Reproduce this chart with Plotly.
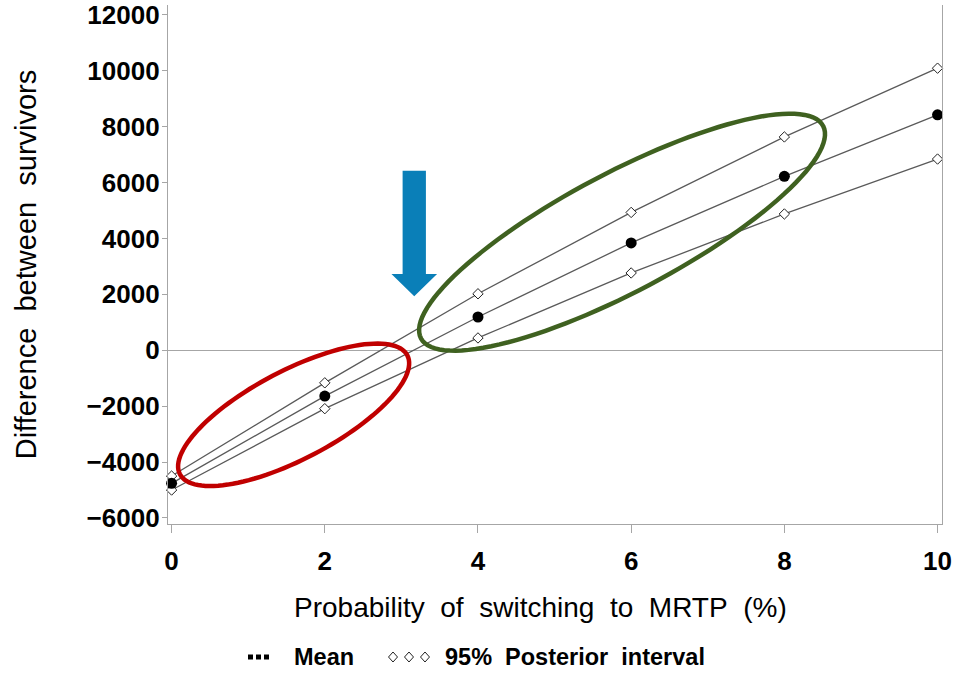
import numpy as np
import plotly.graph_objects as go

# ---- data ----
x_vals = [0, 2, 4, 6, 8, 10]
mean_vals = [-4760, -1640, 1190, 3840, 6220, 8420]
upper_vals = [-4500, -1165, 2020, 4930, 7630, 10090]
lower_vals = [-5000, -2090, 440, 2765, 4875, 6840]

x_ticks = [0, 2, 4, 6, 8, 10]
y_ticks = [-6000, -4000, -2000, 0, 2000, 4000, 6000, 8000, 10000, 12000]

# ---- layout geometry (body margin removed by post_script) ----
OFF = 0
W, H = 961, 673
ML, MR, MT, MB = 168, 19, 5, 149
XR = [-0.047, 10.058]
YR = [-6215, 12350]
PW, PH = W - ML - MR, H - MT - MB
SX = PW / (XR[1] - XR[0])   # px per x unit
SY = PH / (YR[1] - YR[0])   # px per y unit

FONT = "Liberation Sans, Arial, sans-serif"
LINE_COL = "#5a5a5a"
AXIS_COL = "#a6a6a6"
NB = "\u00a0"

fig = go.Figure()

for vals, name in [(upper_vals, "Upper 95%"), (lower_vals, "Lower 95%")]:
    fig.add_trace(go.Scatter(
        x=x_vals, y=vals, mode="lines+markers", name=name, showlegend=False,
        line=dict(color=LINE_COL, width=1.3),
        marker=dict(symbol="diamond", size=8, color="white",
                    line=dict(color="#222222", width=1)),
        cliponaxis=False,
    ))
fig.add_trace(go.Scatter(
    x=x_vals, y=mean_vals, mode="lines+markers", name="Mean", showlegend=False,
    line=dict(color=LINE_COL, width=1.3),
    marker=dict(symbol="circle", size=11, color="black"),
    cliponaxis=False,
))


def ellipse_path(cx, cy, a_px, b_px, theta_deg, n=120):
    th = np.radians(theta_deg)
    t = np.linspace(0, 2 * np.pi, n, endpoint=False)
    dx = a_px * np.cos(t) * np.cos(th) + b_px * np.sin(t) * np.sin(th)
    dy = -a_px * np.cos(t) * np.sin(th) + b_px * np.sin(t) * np.cos(th)
    xs = cx + dx / SX
    ys = cy - dy / SY
    pts = [f"{x:.4f},{y:.2f}" for x, y in zip(xs, ys)]
    return "M " + " L ".join(pts) + " Z"


# red ellipse
fig.add_shape(type="path", xref="x", yref="y",
              path=ellipse_path(1.593, -2309, 128.3, 44.3, 27.6),
              line=dict(color="#c00000", width=4.5))
# green ellipse
fig.add_shape(type="path", xref="x", yref="y",
              path=ellipse_path(5.881, 4224, 227.4, 59.4, 27.85),
              line=dict(color="#3f6120", width=4.5))

# blue arrow
ax_c, shaft_hw, head_hw = 3.168, 11.65 / SX, 22.8 / SX
y_top, y_head, y_tip = 6422, 2730, 1930
arrow = (f"M {ax_c - shaft_hw},{y_top} L {ax_c + shaft_hw},{y_top} "
         f"L {ax_c + shaft_hw},{y_head} L {ax_c + head_hw},{y_head} "
         f"L {ax_c},{y_tip} L {ax_c - head_hw},{y_head} "
         f"L {ax_c - shaft_hw},{y_head} Z")
fig.add_shape(type="path", xref="x", yref="y", path=arrow,
              fillcolor="#0a7fb8", line=dict(width=0))


# ---- helpers: page pixel -> paper coords ----
def px2paper_x(page_x):
    return (page_x - OFF - ML) / PW


def px2paper_y(page_y):
    return (MT + PH - (page_y - OFF)) / PH


# x-axis title (slightly left of plot centre, as in the reference)
x_title = NB.join(["Probability", "", "of", "", "switching", "", "to", "", "MRTP", "", "(%)"])
fig.add_annotation(xref="paper", yref="paper", x=px2paper_x(540), y=px2paper_y(607),
                   text=x_title, showarrow=False, xanchor="center", yanchor="middle",
                   font=dict(family=FONT, size=28, color="black"))

# ---- legend (built from annotations and paper shapes) ----
leg_cy = 657
for cx in [250.5, 258.5, 266.5]:
    fig.add_shape(type="rect", xref="paper", yref="paper",
                  x0=px2paper_x(cx - 2.5), x1=px2paper_x(cx + 2.5),
                  y0=px2paper_y(leg_cy + 2.5), y1=px2paper_y(leg_cy - 2.5),
                  fillcolor="black", line=dict(width=0))
for cx in [393, 409, 425]:
    hw, hh = 4.5, 5
    p = (f"M {px2paper_x(cx - hw)},{px2paper_y(leg_cy)} "
         f"L {px2paper_x(cx)},{px2paper_y(leg_cy - hh)} "
         f"L {px2paper_x(cx + hw)},{px2paper_y(leg_cy)} "
         f"L {px2paper_x(cx)},{px2paper_y(leg_cy + hh)} Z")
    fig.add_shape(type="path", xref="paper", yref="paper", path=p,
                  fillcolor="white", line=dict(color="#222222", width=1))

fig.add_annotation(xref="paper", yref="paper", x=px2paper_x(292), y=px2paper_y(leg_cy),
                   text="<b>Mean</b>", showarrow=False, xanchor="left", yanchor="middle",
                   font=dict(family=FONT, size=23.5, color="black"))
fig.add_annotation(xref="paper", yref="paper", x=px2paper_x(443), y=px2paper_y(leg_cy),
                   text=f"<b>95%{NB}{NB}Posterior{NB}{NB}interval</b>", showarrow=False,
                   xanchor="left", yanchor="middle",
                   font=dict(family=FONT, size=23.5, color="black"))

y_title = NB.join(["Difference", "", "between", "", "survivors"])

fig.update_layout(
    width=W, height=H,
    margin=dict(l=ML, r=MR, t=MT, b=MB),
    paper_bgcolor="white", plot_bgcolor="white",
    showlegend=False,
    font=dict(family=FONT, color="black"),
    xaxis=dict(
        range=XR, tickvals=x_ticks, ticktext=[str(v) for v in x_ticks],
        showgrid=False, zeroline=False,
        showline=True, linecolor=AXIS_COL, linewidth=1.3, mirror=False,
        ticks="outside", ticklen=8, tickcolor=AXIS_COL, tickwidth=1,
        ticklabelstandoff=6, ticklabeloverflow="allow",
        tickfont=dict(family=FONT, size=26, color="black", weight="bold"),
        automargin=False,
    ),
    yaxis=dict(
        range=YR, tickvals=y_ticks,
        ticktext=[(("\u2212" + str(-v)) if v < 0 else str(v)) for v in y_ticks],
        showgrid=False,
        zeroline=True, zerolinecolor=AXIS_COL, zerolinewidth=1.3,
        showline=True, linecolor=AXIS_COL, linewidth=1.3, mirror=True,
        ticks="outside", ticklen=5, tickcolor=AXIS_COL, tickwidth=1,
        ticklabelstandoff=-3, ticklabeloverflow="allow",
        tickfont=dict(family=FONT, size=26, color="black", weight="bold"),
        title=dict(text=y_title,
                   font=dict(family=FONT, size=29, color="black"), standoff=41),
        automargin=False,
    ),
)

fig.write_html("out.html", config={"displayModeBar": False},
               post_script="document.body.style.margin='0';document.body.style.padding='0';")
